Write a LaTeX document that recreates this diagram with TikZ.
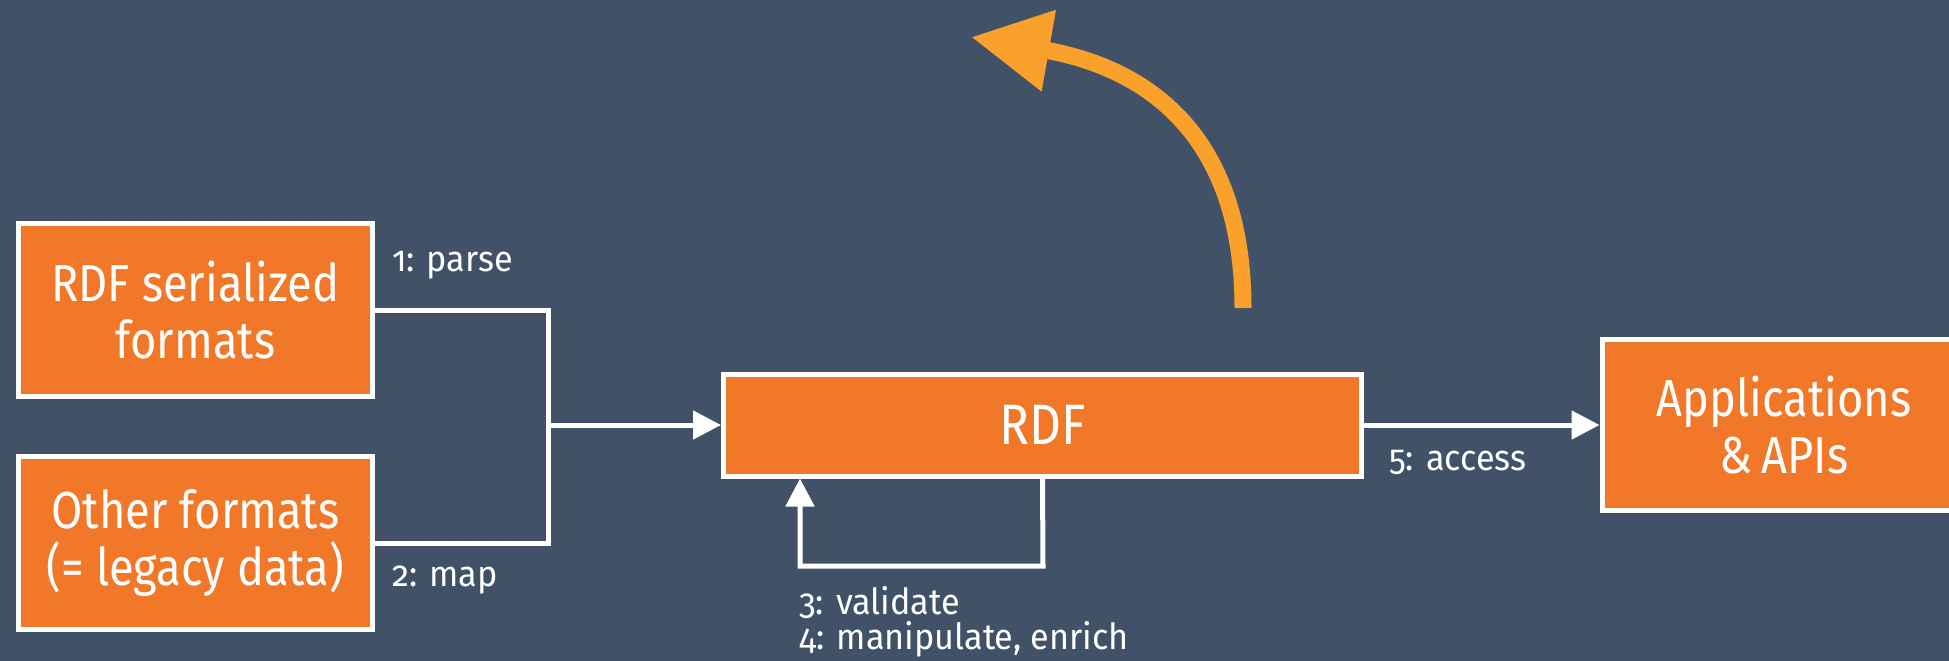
\documentclass[tikz,border=0pt]{standalone}
\usepackage{fontspec}
\setmainfont{Fira Sans}[FakeStretch=0.87, Numbers=OldStyle]
\newfontfamily\lblfont{Fira Sans}[FakeStretch=0.95, Numbers=OldStyle]
\usetikzlibrary{arrows.meta}
\definecolor{bg}{HTML}{415168}
\definecolor{boxor}{HTML}{F07828}
\definecolor{arrowor}{HTML}{F9A12A}
\begin{document}
\begin{tikzpicture}[x=1pt,y=-1pt,
  box/.style={draw=white, line width=5pt, fill=boxor, text=white, inner sep=0pt,
    align=center, font=\fontsize{52}{57}\selectfont},
  lbl/.style={text=white, inner sep=0pt, align=left, font=\lblfont\fontsize{36}{35}\selectfont},
  conn/.style={draw=white, line width=5pt},
  tip/.style={-{Triangle[length=28pt,width=28pt]}}
]
\useasboundingbox (0,0) rectangle (1949,661);
\fill[bg] (0,0) rectangle (1949,661);

\node[box, minimum width=354pt, minimum height=173pt] (ser) at (195.5,310) {RDF serialized\\formats};
\node[box, minimum width=354pt, minimum height=173pt] (oth) at (195.5,543) {Other formats\\(= legacy data)};
\node[box, minimum width=638pt, minimum height=102pt, font=\fontsize{57}{60}\selectfont] (rdf) at (1042.5,425) {RDF};
\node[box, minimum width=364pt, minimum height=171pt] (app) at (1784,425) {Applications\\\&\,APIs};

\coordinate (j1) at (548,310);
\coordinate (j2) at (548,543);
\coordinate (jm) at (548,425);
\draw[conn] (ser.east) -- (j1) -- (j2) -- (oth.east);
\draw[conn, tip] (jm) -- (rdf.west);
\draw[conn, tip] (rdf.east) -- (app.west);

\coordinate (l1) at (1043,566);
\coordinate (l2) at (800,566);
\draw[conn, tip] (rdf.south) -- (l1) -- (l2) -- (l2 |- rdf.south);

\node[lbl, anchor=west] (p1) at (392,265) {1: parse};
\node[lbl, anchor=west] (p2) at (392,580) {2: map};
\node[lbl, anchor=west] (p3) at (799,622) {3: validate\\4: manipulate, enrich};
\node[lbl, anchor=west] (p5) at (1389,462) {5: access};

\coordinate (os) at (1243,308);
\coordinate (oe) at (971,37);
\draw[arrowor, line width=17pt, -{Triangle[length=79pt,width=78pt]}]
  (os) .. controls (1243,120) and (1130,65) .. (oe);
\end{tikzpicture}
\end{document}
